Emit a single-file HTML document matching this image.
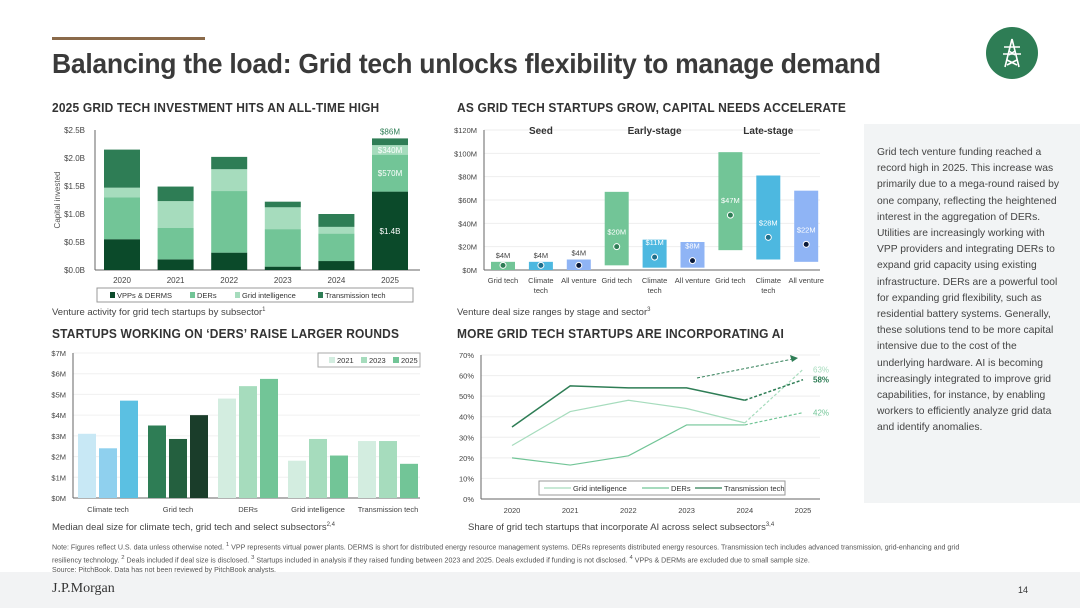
<!DOCTYPE html>
<html><head><meta charset="utf-8">
<style>
body{margin:0;width:1080px;height:608px;background:#fff;position:relative;overflow:hidden;font-family:"Liberation Sans",sans-serif;color:#333}
.abs{position:absolute}
h1{position:absolute;left:52px;top:48px;margin:0;font-size:27.5px;font-weight:bold;color:#3a3a3a;letter-spacing:-0.3px;transform:scaleX(0.965);transform-origin:left;white-space:nowrap}
.h2{position:absolute;font-size:13px;font-weight:bold;color:#333;letter-spacing:0.2px;transform:scaleX(0.92);transform-origin:left;white-space:nowrap}
.cap{position:absolute;font-size:9.5px;color:#444}
#panel{left:864px;top:124px;width:216px;height:379px;background:#f2f4f5}
#panel p{margin:0;position:absolute;left:13px;top:21px;width:188px;font-size:10.3px;line-height:16.2px;color:#444}
#notes{left:52px;top:540px;width:990px;font-size:7.1px;line-height:10.2px;color:#555;white-space:nowrap;z-index:2}
#footer{left:0;top:572px;width:1080px;height:36px;background:#f2f3f4}
svg text{font-family:"Liberation Sans",sans-serif}
</style></head><body>
<div class="abs" style="left:52px;top:37px;width:153px;height:3px;background:#8a6a4a"></div>
<h1>Balancing the load: Grid tech unlocks flexibility to manage demand</h1>
<div class="abs" style="left:986px;top:27px;width:52px;height:52px;border-radius:50%;background:#2e7d55">
<svg width="52" height="52" viewBox="0 0 52 52"><g stroke="#fff" stroke-width="1.6" fill="none"><path d="M26 12 L19 40 M26 12 L33 40 M18 20 H34 M17 27 H35 M21 33 L31 38 M31 33 L21 38 M23 24 L29 28 M29 24 L23 28"/></g></svg></div>

<div class="h2" style="left:52px;top:100px">2025 GRID TECH INVESTMENT HITS AN ALL-TIME HIGH</div>
<div class="h2" style="left:457px;top:100px">AS GRID TECH STARTUPS GROW, CAPITAL NEEDS ACCELERATE</div>
<div class="h2" style="left:52px;top:326px">STARTUPS WORKING ON ‘DERS’ RAISE LARGER ROUNDS</div>
<div class="h2" style="left:457px;top:326px">MORE GRID TECH STARTUPS ARE INCORPORATING AI</div>
<div class="cap" style="left:52px;top:307px">Venture activity for grid tech startups by subsector<sup style="font-size:6px">1</sup></div>
<div class="cap" style="left:457px;top:307px">Venture deal size ranges by stage and sector<sup style="font-size:6px">3</sup></div>
<div class="cap" style="left:52px;top:522px">Median deal size for climate tech, grid tech and select subsectors<sup style="font-size:6px">2,4</sup></div>
<div class="cap" style="left:468px;top:522px">Share of grid tech startups that incorporate AI across select subsectors<sup style="font-size:6px">3,4</sup></div>

<div class="abs" id="panel"><p>Grid tech venture funding reached a record high in 2025. This increase was primarily due to a mega-round raised by one company, reflecting the heightened interest in the aggregation of DERs. Utilities are increasingly working with VPP providers and integrating DERs to expand grid capacity using existing infrastructure. DERs are a powerful tool for expanding grid flexibility, such as residential battery systems. Generally, these solutions tend to be more capital intensive due to the cost of the underlying hardware. AI is becoming increasingly integrated to improve grid capabilities, for instance, by enabling workers to efficiently analyze grid data and identify anomalies.</p></div>

<div class="abs" id="footer">
<div class="abs" style="left:52px;top:9px;font-family:'Liberation Serif',serif;font-size:14px;color:#333">J.P.Morgan</div>
<div class="abs" style="left:1018px;top:13px;font-size:9px;color:#333">14</div>
</div>
<div class="abs" id="notes">Note: Figures reflect U.S. data unless otherwise noted. <sup>1</sup> VPP represents virtual power plants. DERMS is short for distributed energy resource management systems. DERs represents distributed energy resources. Transmission tech includes advanced transmission, grid-enhancing and grid<br>resiliency technology. <sup>2</sup> Deals included if deal size is disclosed. <sup>3</sup> Startups included in analysis if they raised funding between 2023 and 2025. Deals excluded if funding is not disclosed. <sup>4</sup> VPPs &amp; DERMs are excluded due to small sample size.<br>Source: PitchBook. Data has not been reviewed by PitchBook analysts.</div>

<svg id="s" class="abs" style="left:0;top:0" width="1080" height="608"></svg>

<script>
// Chart 1 data
const c1Years=["2020","2021","2022","2023","2024","2025"];
const c1Vpp=[0.55,0.19,0.31,0.06,0.16,1.40];
const c1Ders=[0.75,0.56,1.10,0.67,0.49,0.66];
const c1Grid=[0.17,0.48,0.39,0.39,0.12,0.17];
const c1Trans=[0.68,0.26,0.22,0.10,0.23,0.12];
const c1Ticks=[0,0.5,1.0,1.5,2.0,2.5];
const c1TickLabels=["$0.0B","$0.5B","$1.0B","$1.5B","$2.0B","$2.5B"];
const c1Labels2025=["$1.4B","$570M","$340M","$86M"];
// Chart 2 data
const c2Cats=["Grid tech","Climate tech","All venture","Grid tech","Climate tech","All venture","Grid tech","Climate tech","All venture"];
const c2Low=[0,0,0,4,2,2,17,9,7];
const c2High=[7,7,9,67,26,24,101,81,68];
const c2Median=[4,4,4,20,11,8,47,28,22];
const c2Labels=["$4M","$4M","$4M","$20M","$11M","$8M","$47M","$28M","$22M"];
const c2Stages=["Seed","Early-stage","Late-stage"];
const c2Ticks=[0,20,40,60,80,100,120];
// Chart 3 data
const c3Cats=["Climate tech","Grid tech","DERs","Grid intelligence","Transmission tech"];
const c3Y2021=[3.1,3.5,4.8,1.8,2.75];
const c3Y2023=[2.4,2.85,5.4,2.85,2.75];
const c3Y2025=[4.7,4.0,5.75,2.05,1.65];
const c3Ticks=[0,1,2,3,4,5,6,7];
// Chart 4 data
const c4Years=["2020","2021","2022","2023","2024","2025"];
const c4Grid=[26,42.5,48,44,37,63];
const c4Ders=[20,16.5,21,36,36,42];
const c4Trans=[35,55,54,54,48,58];
const c4Ticks=[0,10,20,30,40,50,60,70];

const S=document.getElementById('s');const NS="http://www.w3.org/2000/svg";
function mk(tag,a,txt){const e=document.createElementNS(NS,tag);for(const k in a)e.setAttribute(k,a[k]);if(txt!==undefined)e.textContent=txt;S.appendChild(e);return e;}

// ---- Chart 1
{const y=v=>270-v*56, x=i=>122+i*53.6, bw=36;
c1Ticks.forEach((t,i)=>{const l=mk('text',{x:85,y:y(t)+3,'font-size':8,'text-anchor':'end',fill:'#444'},c1TickLabels[i]);
});
mk('line',{x1:95,y1:130,x2:95,y2:270,stroke:'#666'});
mk('line',{x1:95,y1:270,x2:420,y2:270,stroke:'#666'});
const t=mk('text',{x:0,y:0,'font-size':8,fill:'#555','text-anchor':'middle',transform:'translate(60,200) rotate(-90)'},'Capital invested');

const series=[c1Vpp,c1Ders,c1Grid,c1Trans],cols=['#0b4a2a','#72c597','#a6dcbd','#2e7d55'],nm=['vpp','ders','grid-intel','trans'];
c1Years.forEach((yr,i)=>{let base=0;series.forEach((s,j)=>{const r=mk('rect',{x:x(i)-bw/2,y:y(base+s[i]),width:bw,height:s[i]*56,fill:cols[j]});

if(i===5){const ty=j===3?y(base+s[i])-4:y(base+s[i]/2)+3;const lt=mk('text',{x:x(i),y:ty,'font-size':8,'text-anchor':'middle',fill:j===3?'#2e7d55':'#fff'},c1Labels2025[j]);
}
base+=s[i];});
const xl=mk('text',{x:x(i),y:283,'font-size':8,'text-anchor':'middle',fill:'#444'},yr);
});
const lg=mk('rect',{x:97,y:288,width:316,height:14,fill:'#fff',stroke:'#999'});
const ln=['VPPs & DERMS','DERs','Grid intelligence','Transmission tech'],lx=[117,197,242,325];
ln.forEach((n,j)=>{mk('rect',{x:lx[j]-7,y:292,width:5,height:6,fill:cols[j]});const e=mk('text',{x:lx[j],y:298,'font-size':7.5,fill:'#333'},n);
});}

// ---- Chart 2
{const y=v=>270-v*140/120, x=i=>503+i*37.9, bw=24;
c2Ticks.forEach(t=>{mk('line',{x1:484,y1:y(t),x2:820,y2:y(t),stroke:'#eee'});const l=mk('text',{x:477,y:y(t)+3,'font-size':7.5,'text-anchor':'end',fill:'#444'},'$'+t+'M');
});
mk('line',{x1:484,y1:130,x2:484,y2:270,stroke:'#666'});mk('line',{x1:484,y1:270,x2:820,y2:270,stroke:'#666'});
const cols=['#72c597','#4db8e0','#8fb4f5'],dots=['#2e7d55','#1f6f8b','#0a1a3a'];
c2Cats.forEach((c,i)=>{const k=i%3;const r=mk('rect',{x:x(i)-bw/2,y:y(c2High[i]),width:bw,height:(c2High[i]-c2Low[i])*140/120,fill:cols[k]});

const d=mk('circle',{cx:x(i),cy:y(c2Median[i]),r:3,fill:dots[k],stroke:'#fff','stroke-width':1});
const inside=c2High[i]-c2Median[i]>12;const lt=mk('text',{x:x(i),y:inside?y(c2Median[i])-12:y(c2High[i])-4,'font-size':7.5,'text-anchor':'middle',fill:inside?'#fff':'#444'},c2Labels[i]);

const w=c.split(' ');const two=c!=='Grid tech'&&c!=='All venture';
const xl=mk('text',{x:x(i),y:283,'font-size':7.5,'text-anchor':'middle',fill:'#444'},two?w[0]:c);
if(two)mk('text',{x:x(i),y:293,'font-size':7.5,'text-anchor':'middle',fill:'#444'},w[1]);});
c2Stages.forEach((s,k)=>{const e=mk('text',{x:x(k*3+1),y:134,'font-size':10,'font-weight':'bold','text-anchor':'middle',fill:'#333'},s);
});}

// ---- Chart 3
{const y=v=>498-v*145/7, bw=18, gx=i=>108+i*70;
c3Ticks.forEach(t=>{mk('line',{x1:73,y1:y(t),x2:420,y2:y(t),stroke:'#f0f0f0'});const l=mk('text',{x:66,y:y(t)+3,'font-size':7.5,'text-anchor':'end',fill:'#444'},'$'+t+'M');
});
mk('line',{x1:73,y1:353,x2:73,y2:498,stroke:'#666'});mk('line',{x1:73,y1:498,x2:420,y2:498,stroke:'#666'});
const pal=[['#c8e8f5','#8fd0ee','#5bc0e2'],['#2e7d55','#24603f','#1a3d2a'],['#d3ede0','#a6dcbd','#72c597']];
const ser=[c3Y2021,c3Y2023,c3Y2025],yrs=['2021','2023','2025'];
c3Cats.forEach((c,i)=>{const p=pal[Math.min(i,2)];ser.forEach((s,j)=>{const r=mk('rect',{x:gx(i)+(j-1)*21-bw/2,y:y(s[i]),width:bw,height:s[i]*145/7,fill:p[j]});
});
const xl=mk('text',{x:gx(i),y:512,'font-size':7.5,'text-anchor':'middle',fill:'#444'},c);});
const lg=mk('rect',{x:318,y:353,width:102,height:14,fill:'#fff',stroke:'#aaa'});
yrs.forEach((yv,j)=>{mk('rect',{x:329+j*32,y:357,width:6,height:6,fill:pal[2][j]});const e=mk('text',{x:337+j*32,y:363,'font-size':7.5,fill:'#333'},yv);
});}

// ---- Chart 4
{const y=v=>499-v*144/70, x=i=>512+i*58.2;
c4Ticks.forEach(t=>{mk('line',{x1:481,y1:y(t),x2:820,y2:y(t),stroke:'#eee'});const l=mk('text',{x:474,y:y(t)+3,'font-size':7.5,'text-anchor':'end',fill:'#444'},t+'%');
});
mk('line',{x1:481,y1:355,x2:481,y2:499,stroke:'#666'});mk('line',{x1:481,y1:499,x2:820,y2:499,stroke:'#666'});
c4Years.forEach((yr,i)=>{const e=mk('text',{x:x(i),y:513,'font-size':7.5,'text-anchor':'middle',fill:'#444'},yr);});
const ser=[c4Grid,c4Ders,c4Trans],cols=['#a6dcbd','#72c597','#2e7d55'],nm=['grid-intel','ders','trans'],wd=[1.2,1.2,1.5];
ser.forEach((s,j)=>{const pts=s.slice(0,5).map((v,i)=>x(i)+','+y(v)).join(' ');const l=mk('polyline',{points:pts,fill:'none',stroke:cols[j],'stroke-width':wd[j]});

const d=mk('line',{x1:x(4),y1:y(s[4]),x2:x(5),y2:y(s[5]),stroke:cols[j],'stroke-width':wd[j],'stroke-dasharray':'3,2'});
const t=mk('text',{x:x(5)+10,y:y(s[5])+3,'font-size':8,fill:cols[j],'font-weight':j===2?'bold':'normal'},s[5]+'%');});
const a=mk('line',{x1:697,y1:378,x2:793,y2:359,stroke:'#2e7d55','stroke-width':1,'stroke-dasharray':'3,2'});
mk('polygon',{points:'798,358 790,355 792,362',fill:'#2e7d55'});
const lg=mk('rect',{x:539,y:481,width:246,height:14,fill:'#fff',stroke:'#999'});
const ln=['Grid intelligence','DERs','Transmission tech'],lx=[544,642,695];
ln.forEach((n,j)=>{mk('line',{x1:lx[j],y1:488,x2:lx[j]+27,y2:488,stroke:cols[j],'stroke-width':1.3});const e=mk('text',{x:lx[j]+29,y:491,'font-size':7.5,fill:'#333'},n);
});}
</script>
</body></html>
